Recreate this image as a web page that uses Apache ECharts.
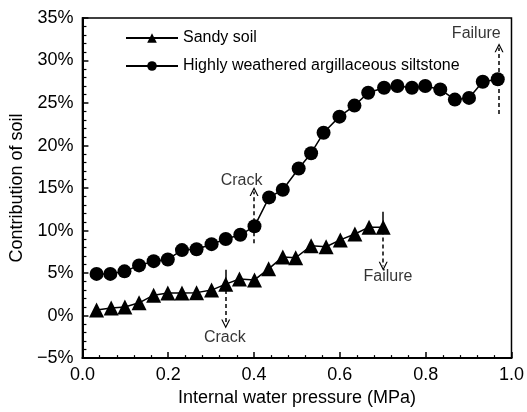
<!DOCTYPE html>
<html>
<head>
<meta charset="utf-8">
<script src="https://cdn.jsdelivr.net/npm/echarts@6/dist/echarts.min.js"></script>
<style>
  html, body { margin: 0; padding: 0; background: #fff; }
  #chart { width: 527px; height: 412px; }
</style>
</head>
<body>
<div id="chart"></div>
<script>
// 数据：砂土
const xSand = [0.033, 0.067, 0.099, 0.132, 0.166, 0.199, 0.232, 0.266, 0.301, 0.334, 0.366,
  0.401, 0.434, 0.467, 0.497, 0.533, 0.568, 0.601, 0.635, 0.668, 0.701];
const ySand = [0.65, 0.9, 1.0, 1.5, 2.4, 2.65, 2.65, 2.7, 3.0, 3.7, 4.3,
  4.2, 5.5, 6.9, 6.8, 8.2, 8.1, 8.9, 9.6, 10.4, 10.4];

// 数据：强风化泥质粉砂岩
const xRock = [0.033, 0.065, 0.098, 0.132, 0.166, 0.199, 0.232, 0.266, 0.301, 0.334, 0.368,
  0.401, 0.435, 0.467, 0.504, 0.533, 0.562, 0.599, 0.634, 0.666, 0.703, 0.734, 0.768,
  0.799, 0.834, 0.868, 0.901, 0.933, 0.968];
const yRock = [4.9, 4.9, 5.2, 5.9, 6.4, 6.6, 7.7, 7.8, 8.4, 9.0, 9.5,
  10.5, 13.9, 14.8, 17.3, 19.1, 21.5, 23.4, 24.7, 26.2, 26.8, 27.0, 26.8,
  27.0, 26.6, 25.4, 25.6, 27.5, 27.8];

const seriesNames = ["Sandy soil", "Highly weathered argillaceous siltstone"];
const xTicks = [0, 0.2, 0.4, 0.6, 0.8, 1.0];
const yTicks = [-5, 0, 5, 10, 15, 20, 25, 30, 35];

// 注释文字位置
const notes = [
  [0.371, 15.9, "Crack"],
  [0.332, -2.6, "Crack"],
  [0.712, 4.6, "Failure"],
  [0.918, 33.2, "Failure"],
];

const chevron = "path://M0,10 L5,0 L10,10 L8.6,10 L5,2.8 L1.4,10 Z";
const font = "Liberation Sans, Arial, sans-serif";

const arrow = (x, y1, y2, dashed) => [
  { coord: [x, y1], symbol: "none", lineStyle: { type: dashed ? [4, 3] : "solid" } },
  { coord: [x, y2] },
];
const plain = (x, y1, y2, dashed) => [
  { coord: [x, y1], symbol: "none", lineStyle: { type: dashed ? [4, 3] : "solid" } },
  { coord: [x, y2], symbol: "none" },
];

const chart = echarts.init(document.getElementById("chart"));

const option = {
  animation: false,
  backgroundColor: "#fff",
  textStyle: { fontFamily: font, color: "#000" },
  grid: {
    left: 82, right: 14, top: 18, bottom: 51,
    show: true, borderColor: "#000", borderWidth: 1.5,
  },
  legend: {
    data: seriesNames,
    orient: "vertical",
    left: 120, top: 25,
    itemWidth: 52, itemHeight: 12, itemGap: 12,
    textStyle: { fontSize: 16, color: "#000", fontFamily: font },
  },
  xAxis: {
    type: "value",
    min: xTicks[0], max: xTicks[xTicks.length - 1], interval: 0.2,
    name: "Internal water pressure (MPa)",
    nameLocation: "middle", nameGap: 30,
    nameTextStyle: { fontSize: 18, color: "#000" },
    axisLine: { show: true, onZero: false, lineStyle: { color: "#000", width: 2 } },
    axisTick: { show: true, inside: true, length: 6, lineStyle: { width: 1.5 } },
    minorTick: { show: true, splitNumber: 5, length: 3, lineStyle: { color: "#000", width: 1.2 } },
    axisLabel: { fontSize: 18, color: "#000", margin: 8, formatter: (v) => v.toFixed(1) },
    splitLine: { show: false },
  },
  yAxis: {
    type: "value",
    min: yTicks[0], max: yTicks[yTicks.length - 1], interval: 5,
    name: "Contribution of soil",
    nameLocation: "middle", nameGap: 56,
    nameTextStyle: { fontSize: 18, color: "#000" },
    axisLine: { show: true, onZero: false, lineStyle: { color: "#000", width: 2 } },
    axisTick: { show: true, inside: true, length: 6, lineStyle: { width: 1.5 } },
    minorTick: { show: true, splitNumber: 5, length: 4, lineStyle: { color: "#000", width: 1.2 } },
    axisLabel: {
      fontSize: 18, color: "#000", margin: 9,
      formatter: (v) => (v < 0 ? "\u2212" + Math.abs(v) : v) + "%",
    },
    splitLine: { show: false },
  },
  series: [
    {
      name: seriesNames[0],
      type: "line",
      data: xSand.map((x, i) => [x, ySand[i]]),
      symbol: "triangle", symbolSize: 15,
      itemStyle: { color: "#000" },
      lineStyle: { color: "#000", width: 1.5 },
      z: 3,
      markLine: {
        silent: true,
        symbol: ["none", chevron], symbolSize: [9, 9],
        lineStyle: { color: "#000", width: 1.5 },
        label: { show: false },
        data: [
          plain(0.334, 5.4, 3.6, false),
          arrow(0.334, 3.0, -1.0, true),
          plain(0.701, 12.2, 10.4, false),
          arrow(0.701, 10.0, 5.8, true),
        ],
      },
    },
    {
      name: seriesNames[1],
      type: "line",
      data: xRock.map((x, i) => [x, yRock[i]]),
      symbol: "circle", symbolSize: 14,
      itemStyle: { color: "#000" },
      lineStyle: { color: "#000", width: 1.5 },
      z: 3,
      markLine: {
        silent: true,
        symbol: ["none", chevron], symbolSize: [9, 9],
        lineStyle: { color: "#000", width: 1.5 },
        label: { show: false },
        data: [
          arrow(0.4, 8.5, 14.6, true),
          arrow(0.971, 23.7, 31.5, true),
        ],
      },
    },
    {
      name: "notes",
      type: "scatter",
      data: notes,
      symbolSize: 0,
      silent: true,
      label: {
        show: true, position: "inside",
        formatter: (p) => p.data[2],
        fontSize: 16, color: "#000", fontFamily: font,
      },
    },
  ],
};

chart.setOption(option);
</script>
</body>
</html>
